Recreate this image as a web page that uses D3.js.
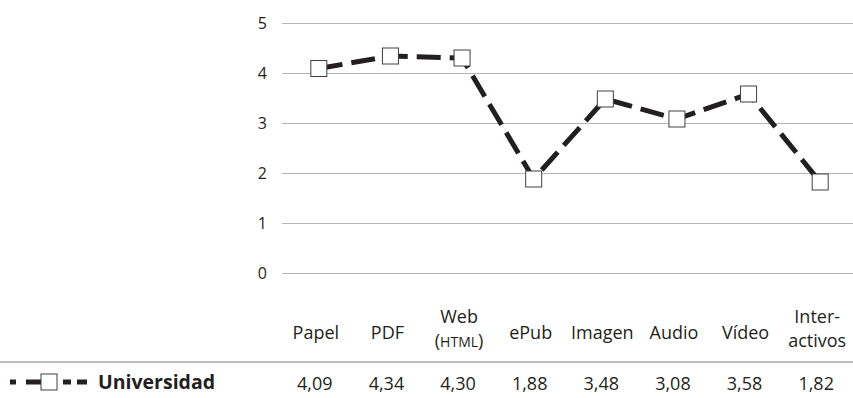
<!DOCTYPE html>
<html>
<head>
<meta charset="utf-8">
<script src="https://cdn.jsdelivr.net/npm/d3@7"></script>
<style>
  body { margin: 0; background: #fff; }
  svg { display: block; font-family: "Open Sans", sans-serif; }
</style>
</head>
<body>
<svg></svg>
<script>
let categories = ["Papel", "PDF", "Web", "ePub", "Imagen", "Audio", "Vídeo", "Interactivos"];
let labelLines = [["Papel"], ["PDF"], ["Web", "(HTML)"], ["ePub"], ["Imagen"], ["Audio"], ["Vídeo"], ["Inter-", "activos"]];
let values = [4.09, 4.34, 4.30, 1.88, 3.48, 3.08, 3.58, 1.82];
let valueLabels = ["4,09", "4,34", "4,30", "1,88", "3,48", "3,08", "3,58", "1,82"];
let yTicks = [0, 1, 2, 3, 4, 5];
let seriesName = "Universidad";

let width = 853;
let height = 398;
let textColor = "#231f20";

let svg = d3.select("svg").attr("width", width).attr("height", height);

let xScale = d3.scaleBand().domain(categories).range([283, 856]);
let yScale = d3.scaleLinear().domain([0, 5]).range([273, 23]);
let cx = (c) => xScale(c) + xScale.bandwidth() / 2;

// gridlines
svg.append("g")
  .selectAll("line")
  .data(yTicks)
  .enter()
  .append("line")
  .attr("x1", 282)
  .attr("x2", width)
  .attr("y1", (d) => Math.round(yScale(d)) + 0.5)
  .attr("y2", (d) => Math.round(yScale(d)) + 0.5)
  .attr("stroke", "#b5b5b5")
  .attr("stroke-width", 1);

// y axis labels
let yAxis = d3.axisLeft(yScale).tickValues(yTicks).tickFormat(d3.format("d")).tickSize(0).tickPadding(0);
let yAxisG = svg.append("g")
  .attr("transform", "translate(267, 0)")
  .call(yAxis);
yAxisG.select(".domain").remove();
yAxisG.selectAll("text")
  .attr("font-family", "Open Sans, sans-serif")
  .attr("font-size", 16)
  .attr("fill", textColor);

// line
let line = d3.line()
  .x((d, i) => cx(categories[i]))
  .y((d) => yScale(d));

svg.append("path")
  .datum(values)
  .attr("d", line)
  .attr("fill", "none")
  .attr("stroke", textColor)
  .attr("stroke-width", 5)
  .attr("stroke-dasharray", "24,9");

// markers
svg.append("g")
  .selectAll("rect")
  .data(values)
  .enter()
  .append("rect")
  .attr("x", (d, i) => cx(categories[i]) - 8)
  .attr("y", (d) => yScale(d) - 8)
  .attr("width", 16)
  .attr("height", 16)
  .attr("fill", "#fff")
  .attr("stroke", "#404040")
  .attr("stroke-width", 1);

// category labels
let catG = svg.append("g")
  .selectAll("text")
  .data(labelLines)
  .enter()
  .append("text")
  .attr("x", (d, i) => cx(categories[i]) - 3)
  .attr("text-anchor", "middle")
  .attr("font-size", 18)
  .attr("fill", textColor);

catG.each(function (lines) {
  let t = d3.select(this);
  if (lines.length === 1) {
    t.append("tspan").attr("x", t.attr("x")).attr("y", 339).text(lines[0]);
  } else {
    t.append("tspan").attr("x", t.attr("x")).attr("y", 323).text(lines[0]);
    let second = t.append("tspan").attr("x", t.attr("x")).attr("y", 347);
    if (lines[1] === "(HTML)") {
      second.append("tspan").text("(");
      second.append("tspan").attr("font-size", 14).text("HTML");
      second.append("tspan").text(")");
    } else {
      second.text(lines[1]);
    }
  }
});

// separator
svg.append("line")
  .attr("x1", 0)
  .attr("x2", width)
  .attr("y1", 362)
  .attr("y2", 362)
  .attr("stroke", "#a6a6a6")
  .attr("stroke-width", 1.3);

// value row
svg.append("g")
  .selectAll("text")
  .data(valueLabels)
  .enter()
  .append("text")
  .attr("x", (d, i) => cx(categories[i]) - 4)
  .attr("y", 390)
  .attr("text-anchor", "middle")
  .attr("font-size", 18)
  .attr("fill", textColor)
  .text((d) => d);

// legend
let legend = svg.append("g");
legend.append("line")
  .attr("x1", 10)
  .attr("x2", 88)
  .attr("y1", 382)
  .attr("y2", 382)
  .attr("stroke", textColor)
  .attr("stroke-width", 5)
  .attr("stroke-dasharray", "6,10,31,6,8");
legend.append("rect")
  .attr("x", 41)
  .attr("y", 374)
  .attr("width", 16)
  .attr("height", 16)
  .attr("fill", "#fff")
  .attr("stroke", "#404040");
legend.append("text")
  .attr("x", 98)
  .attr("y", 389)
  .attr("font-size", 19.5)
  .attr("font-weight", "bold")
  .attr("fill", textColor)
  .text(seriesName);
</script>
</body>
</html>
